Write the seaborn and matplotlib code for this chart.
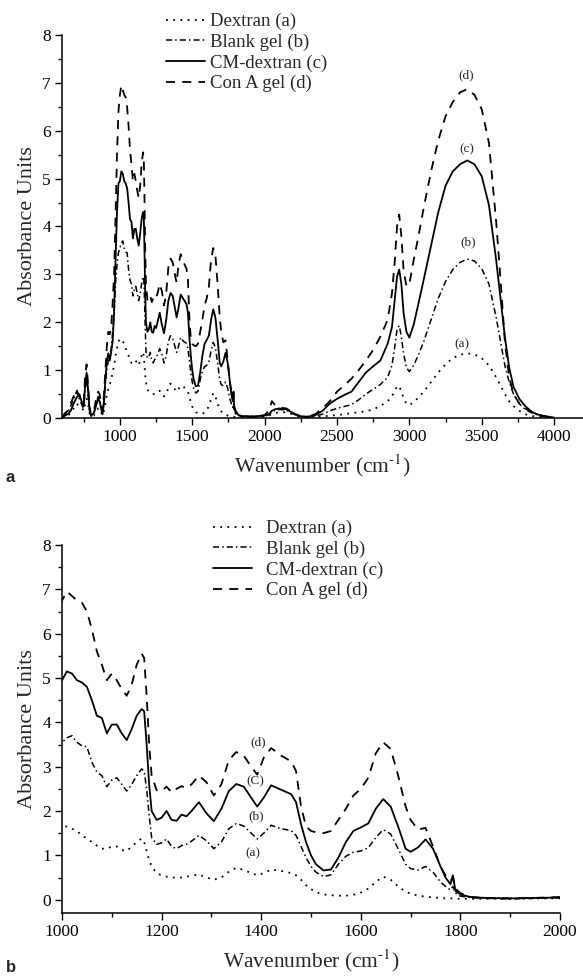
import numpy as np
import pandas as pd
import matplotlib
matplotlib.use("Agg")
import matplotlib.pyplot as plt
from matplotlib.ticker import MultipleLocator
from matplotlib.lines import Line2D
import seaborn as sns

# ---- FTIR spectra (absorbance vs wavenumber, cm-1) ----
wavenumber = [
    600, 620, 640, 660, 680, 700, 720, 740, 750, 760, 770, 780, 790, 800, 820, 840, 850, 860, 870, 880,
    890, 900, 910, 920, 930, 940, 950, 960, 970, 980, 990,
    1000, 1010, 1020, 1030, 1040, 1050, 1060, 1070, 1080, 1090, 1100, 1110, 1120, 1130, 1140, 1150,
    1160, 1165, 1170, 1175, 1180, 1190,
    1200, 1210, 1220, 1230, 1240, 1250, 1260, 1275, 1290, 1305, 1320, 1335, 1350, 1365, 1380, 1392,
    1405, 1420, 1440, 1460, 1470, 1480, 1490, 1500, 1510, 1525, 1540, 1555, 1570, 1585, 1600, 1615,
    1630, 1645, 1660, 1675, 1690, 1700, 1715, 1730, 1745, 1760, 1770, 1780, 1785, 1790, 1800, 1820,
    1850, 1900, 1950,
    2000, 2030, 2050, 2070, 2100, 2150, 2200, 2250, 2300, 2350, 2400, 2450, 2500, 2550, 2600, 2650,
    2700, 2750, 2800, 2850, 2880, 2900, 2915, 2930, 2945, 2960, 2980, 3000, 3030, 3060, 3100, 3150,
    3200, 3250, 3300, 3350, 3400, 3450, 3500, 3550, 3600, 3630, 3660, 3690, 3720, 3760, 3800, 3850,
    3900, 3950, 4000,
]

dextran = [
    0.00, 0.03, 0.05, 0.10, 0.20, 0.30, 0.25, 0.20, 0.15, 0.30, 0.40, 0.30, 0.10, 0.03, 0.05, 0.15, 0.20, 0.20, 0.12, 0.05,
    0.15, 0.30, 0.50, 0.60, 0.70, 0.80, 0.95, 1.10, 1.30, 1.45, 1.60,
    1.65, 1.65, 1.60, 1.55, 1.45, 1.38, 1.30, 1.22, 1.15, 1.15, 1.20, 1.20, 1.12, 1.10, 1.20, 1.30,
    1.38, 1.30, 1.10, 0.90, 0.75, 0.60,
    0.55, 0.52, 0.50, 0.50, 0.50, 0.52, 0.54, 0.57, 0.50, 0.45, 0.50, 0.63, 0.72, 0.67, 0.60, 0.55,
    0.60, 0.68, 0.65, 0.60, 0.55, 0.45, 0.33, 0.24, 0.17, 0.12, 0.10, 0.09, 0.09, 0.11, 0.16, 0.25,
    0.40, 0.52, 0.45, 0.30, 0.18, 0.14, 0.09, 0.07, 0.05, 0.04, 0.03, 0.03, 0.03, 0.02, 0.02, 0.02,
    0.02, 0.02, 0.03,
    0.03, 0.05, 0.08, 0.10, 0.12, 0.12, 0.07, 0.02, 0.02, 0.02, 0.03, 0.05, 0.06, 0.08, 0.10, 0.12,
    0.14, 0.18, 0.25, 0.35, 0.45, 0.58, 0.66, 0.67, 0.55, 0.42, 0.30, 0.27, 0.33, 0.42, 0.55, 0.75,
    0.95, 1.12, 1.25, 1.32, 1.35, 1.33, 1.25, 1.10, 0.85, 0.68, 0.50, 0.35, 0.25, 0.15, 0.08, 0.04,
    0.02, 0.01, 0.00,
]

blank_gel = [
    0.02, 0.08, 0.12, 0.25, 0.40, 0.55, 0.40, 0.25, 0.20, 0.60, 0.85, 0.50, 0.15, 0.03, 0.10, 0.35, 0.45, 0.40, 0.25, 0.10,
    0.40, 0.75, 1.00, 1.20, 1.30, 1.45, 1.80, 2.20, 2.80, 3.20, 3.45,
    3.55, 3.65, 3.70, 3.55, 3.47, 3.45, 3.10, 2.88, 2.80, 2.55, 2.70, 2.75, 2.60, 2.45, 2.60, 2.80,
    2.95, 2.90, 2.50, 1.90, 1.40, 1.25,
    1.28, 1.37, 1.20, 1.15, 1.22, 1.25, 1.32, 1.45, 1.33, 1.15, 1.30, 1.60, 1.72, 1.66, 1.50, 1.37,
    1.50, 1.68, 1.60, 1.56, 1.45, 1.20, 0.95, 0.75, 0.62, 0.52, 0.56, 0.80, 0.98, 1.07, 1.10, 1.17,
    1.40, 1.58, 1.48, 1.15, 0.80, 0.70, 0.67, 0.75, 0.62, 0.40, 0.30, 0.22, 0.30, 0.15, 0.08, 0.05,
    0.03, 0.02, 0.03,
    0.04, 0.07, 0.12, 0.16, 0.18, 0.16, 0.08, 0.03, 0.02, 0.04, 0.08, 0.15, 0.20, 0.24, 0.28, 0.38,
    0.50, 0.60, 0.70, 0.85, 1.10, 1.50, 1.85, 1.93, 1.70, 1.35, 1.05, 0.97, 1.10, 1.30, 1.60, 2.05,
    2.50, 2.85, 3.10, 3.25, 3.32, 3.28, 3.12, 2.80, 2.10, 1.60, 1.10, 0.75, 0.50, 0.30, 0.18, 0.10,
    0.05, 0.02, 0.01,
]

cm_dextran = [
    0.00, 0.05, 0.08, 0.15, 0.30, 0.42, 0.50, 0.30, 0.25, 0.70, 0.95, 0.60, 0.20, 0.05, 0.10, 0.30, 0.40, 0.35, 0.20, 0.08,
    0.30, 0.80, 1.20, 1.35, 1.20, 1.38, 1.60, 2.20, 3.30, 4.30, 4.90,
    4.95, 5.15, 5.10, 4.95, 4.90, 4.80, 4.50, 4.15, 4.10, 3.75, 3.95, 3.95, 3.75, 3.60, 3.85, 4.15,
    4.30, 4.25, 3.50, 2.60, 2.00, 1.80,
    1.85, 2.00, 1.80, 1.78, 1.92, 1.88, 2.00, 2.20, 1.95, 1.77, 2.05, 2.45, 2.61, 2.55, 2.30, 2.10,
    2.30, 2.58, 2.48, 2.38, 2.20, 1.70, 1.30, 1.00, 0.80, 0.66, 0.68, 0.95, 1.30, 1.55, 1.63, 1.72,
    2.05, 2.27, 2.10, 1.65, 1.15, 1.08, 1.18, 1.36, 1.15, 0.75, 0.50, 0.35, 0.55, 0.20, 0.12, 0.06,
    0.04, 0.03, 0.04,
    0.05, 0.08, 0.15, 0.18, 0.20, 0.18, 0.10, 0.03, 0.03, 0.06, 0.15, 0.30, 0.40, 0.48, 0.55, 0.75,
    0.95, 1.08, 1.20, 1.55, 1.90, 2.50, 2.95, 3.10, 2.80, 2.20, 1.80, 1.68, 1.95, 2.35, 2.90, 3.60,
    4.30, 4.85, 5.15, 5.30, 5.38, 5.30, 5.05, 4.45, 3.30, 2.50, 1.70, 1.05, 0.65, 0.40, 0.25, 0.12,
    0.06, 0.03, 0.01,
]

con_a_gel = [
    0.02, 0.10, 0.15, 0.30, 0.45, 0.60, 0.45, 0.35, 0.30, 0.90, 1.12, 0.70, 0.25, 0.05, 0.15, 0.45, 0.55, 0.50, 0.30, 0.15,
    0.50, 1.00, 1.50, 1.80, 1.75, 1.90, 2.40, 3.00, 4.20, 5.50, 6.40,
    6.75, 6.95, 6.85, 6.75, 6.70, 6.50, 6.10, 5.60, 5.30, 4.95, 5.10, 4.95, 4.75, 4.60, 4.85, 5.30,
    5.55, 5.45, 4.60, 3.50, 2.80, 2.47,
    2.45, 2.55, 2.42, 2.50, 2.56, 2.52, 2.60, 2.80, 2.65, 2.35, 2.60, 3.15, 3.33, 3.25, 3.00, 2.82,
    3.20, 3.42, 3.25, 3.12, 2.90, 2.10, 1.65, 1.55, 1.52, 1.50, 1.55, 1.80, 2.05, 2.35, 2.50, 2.75,
    3.30, 3.55, 3.40, 2.80, 2.10, 1.80, 1.58, 1.62, 1.20, 0.75, 0.55, 0.42, 0.50, 0.25, 0.15, 0.06,
    0.04, 0.03, 0.04,
    0.06, 0.15, 0.35, 0.28, 0.22, 0.20, 0.10, 0.03, 0.03, 0.08, 0.20, 0.35, 0.55, 0.68, 0.82, 1.00,
    1.20, 1.42, 1.70, 2.05, 2.60, 3.30, 4.00, 4.25, 3.80, 3.10, 2.75, 2.80, 3.30, 3.75, 4.40, 5.15,
    5.80, 6.30, 6.60, 6.80, 6.87, 6.75, 6.45, 5.75, 4.10, 2.90, 1.60, 0.85, 0.50, 0.30, 0.20, 0.12,
    0.06, 0.03, 0.01,
]

series_names = ["Dextran (a)", "Blank gel (b)", "CM-dextran (c)", "Con A gel (d)"]
series_values = [dextran, blank_gel, cm_dextran, con_a_gel]
line_styles = [(0, (1, 3)), (0, (4, 2, 1, 2)), "-", (0, (5, 4))]
line_widths = [1.3, 1.1, 1.3, 1.3]

spectra = pd.concat(
    [pd.DataFrame({"wavenumber": wavenumber, "absorbance": vals, "sample": name})
     for name, vals in zip(series_names, series_values)],
    ignore_index=True,
)

sns.set_theme(style="ticks")
plt.rcParams["font.family"] = ["Liberation Serif", "DejaVu Serif"]
plt.rcParams["mathtext.fontset"] = "stix"

W, H = 583, 980
fig = plt.figure(figsize=(W / 100, H / 100), dpi=100)


def px_axes(left, top, right, bottom):
    return fig.add_axes([left / W, 1 - bottom / H, (right - left) / W, (bottom - top) / H])


ax_a = px_axes(62, 35, 583, 418)
ax_b = px_axes(62, 545, 560, 913)


def draw(ax):
    for name, ls, lw in zip(series_names, line_styles, line_widths):
        sub = spectra[spectra["sample"] == name]
        sns.lineplot(data=sub, x="wavenumber", y="absorbance", ax=ax, color="black",
                     linestyle=ls, linewidth=lw, estimator=None, sort=False, legend=False)
    ax.set_ylabel("Absorbance Units", fontsize=16, labelpad=4)
    ax.set_xlabel("Wavenumber (cm$^{\\text{-}1}$)", fontsize=15.5, labelpad=5)
    ax.yaxis.set_major_locator(MultipleLocator(1))
    ax.yaxis.set_minor_locator(MultipleLocator(0.5))
    ax.tick_params(which="major", direction="out", length=5, width=1, labelsize=12.5,
                   color="black", labelcolor="black", pad=3)
    ax.tick_params(which="minor", direction="out", length=3, width=1, color="black")
    for side in ("top", "right"):
        ax.spines[side].set_visible(False)
    for side in ("left", "bottom"):
        ax.spines[side].set_color("black")
        ax.spines[side].set_linewidth(1.1)
    ax.grid(False)


draw(ax_a)
ax_a.set_xlim(600, 4200)
ax_a.set_ylim(0, 8)
ax_a.set_xticks([1000, 1500, 2000, 2500, 3000, 3500, 4000])
ax_a.xaxis.set_minor_locator(MultipleLocator(250))

draw(ax_b)
ax_b.set_xlim(1000, 2000)
ax_b.set_ylim(-0.3, 8)
ax_b.xaxis.set_major_locator(MultipleLocator(200))
ax_b.xaxis.set_minor_locator(MultipleLocator(100))

# curve tags
for txt, x, y in [("(d)", 3390, 7.15), ("(c)", 3400, 5.62), ("(b)", 3410, 3.68), ("(a)", 3360, 1.55)]:
    ax_a.text(x, y, txt, fontsize=9.5, ha="center", va="center")
for txt, x, y in [("(d)", 1393, 3.55), ("(C)", 1389, 2.68), ("(b)", 1389, 1.88), ("(a)", 1383, 1.05)]:
    ax_b.text(x, y, txt, fontsize=9.5, ha="center", va="center")

handles = [Line2D([], [], color="black", linestyle=ls, linewidth=lw)
           for ls, lw in zip(line_styles, line_widths)]
leg_kw = dict(frameon=False, fontsize=13.5, handlelength=2.1, labelspacing=0.18,
              borderpad=0, borderaxespad=0, loc="upper left")
fig.legend(handles, series_names, bbox_to_anchor=(166 / W, 1 - 13 / H),
           handletextpad=0.25, **leg_kw)
fig.legend(handles, series_names, bbox_to_anchor=(213 / W, 1 - 520 / H),
           handletextpad=0.7, **leg_kw)

fig.text(6 / W, 1 - 477 / H, "a", fontsize=12, fontweight="bold",
         family="Liberation Sans", va="center", ha="left")
fig.text(6 / W, 1 - 967 / H, "b", fontsize=12, fontweight="bold",
         family="Liberation Sans", va="center", ha="left")

fig.savefig("out.png", dpi=100)
